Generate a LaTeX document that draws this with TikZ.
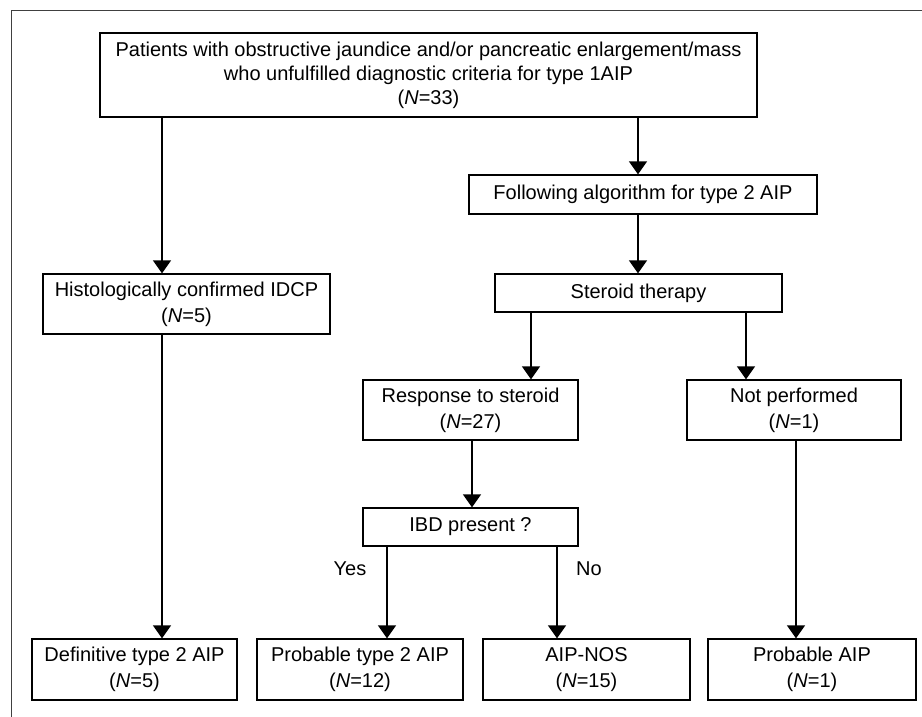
\documentclass[tikz,border=0pt]{standalone}
\usepackage{fontspec}
\setmainfont{Liberation Sans}
\usetikzlibrary{arrows.meta}
\begin{document}
\begin{tikzpicture}[x=1pt,y=-1pt,
  box/.style={draw=black, line width=1.3pt, inner sep=0pt, align=center,
    font=\fontsize{20}{26}\selectfont},
  arr/.style={line width=1.4pt, -{Triangle[width=18pt,length=13pt]}},
  lbl/.style={inner sep=0pt, font=\fontsize{20}{24}\selectfont},
  frame/.style={draw=black!75, line width=0.9pt}]
\useasboundingbox (0,0) rectangle (922,717);
\draw[frame] (11,717) -- (11,10) -- (922,10);
% nodes
\node[box, minimum width=657pt, minimum height=84pt, font=\fontsize{20}{24}\selectfont] (top) at (428.5,75)
  {Patients with obstructive jaundice and/or pancreatic enlargement/mass\\who unfulfilled diagnostic criteria for type 1AIP\\(\textit{N}=33)};
\node[box, minimum width=287pt, minimum height=60pt] (hist) at (186.5,304) {Histologically confirmed IDCP\\(\textit{N}=5)};
\node[box, minimum width=348pt, minimum height=39pt] (follow) at (643,194.5) {Following algorithm for type 2 AIP};
\node[box, minimum width=287pt, minimum height=38pt] (ster) at (638.5,293) {Steroid therapy};
\node[box, minimum width=215pt, minimum height=60pt] (resp) at (470.5,410) {Response to steroid\\(\textit{N}=27)};
\node[box, minimum width=214pt, minimum height=60pt] (notp) at (794,410) {Not performed\\(\textit{N}=1)};
\node[box, minimum width=215pt, minimum height=38pt] (ibd) at (470.5,527) {IBD present ?};
\node[box, minimum width=205pt, minimum height=61pt] (def) at (134.5,669.5) {Definitive type 2 AIP\\(\textit{N}=5)};
\node[box, minimum width=206pt, minimum height=61pt] (prob2) at (360,669.5) {Probable type 2 AIP\\(\textit{N}=12)};
\node[box, minimum width=207pt, minimum height=61pt] (nos) at (586.5,669.5) {AIP-NOS\\(\textit{N}=15)};
\node[box, minimum width=208pt, minimum height=61pt] (paip) at (812,669.5) {Probable AIP\\(\textit{N}=1)};
\node[lbl] (yes) at (350,569) {Yes};
\node[lbl] (no) at (589,569) {No};
% connector x positions
\coordinate (xa) at (162,0);
\coordinate (xb) at (638,0);
\coordinate (xc) at (531,0);
\coordinate (xd) at (746,0);
\coordinate (xe) at (472,0);
\coordinate (xf) at (387,0);
\coordinate (xg) at (557,0);
\coordinate (xh) at (796,0);
% connectors
\draw[arr] (top.south -| xa) -- (hist.north -| xa);
\draw[arr] (top.south -| xb) -- (follow.north -| xb);
\draw[arr] (follow.south -| xb) -- (ster.north -| xb);
\draw[arr] (ster.south -| xc) -- (resp.north -| xc);
\draw[arr] (ster.south -| xd) -- (notp.north -| xd);
\draw[arr] (resp.south -| xe) -- (ibd.north -| xe);
\draw[arr] (hist.south -| xa) -- (def.north -| xa);
\draw[arr] (ibd.south -| xf) -- (prob2.north -| xf);
\draw[arr] (ibd.south -| xg) -- (nos.north -| xg);
\draw[arr] (notp.south -| xh) -- (paip.north -| xh);
\end{tikzpicture}
\end{document}
